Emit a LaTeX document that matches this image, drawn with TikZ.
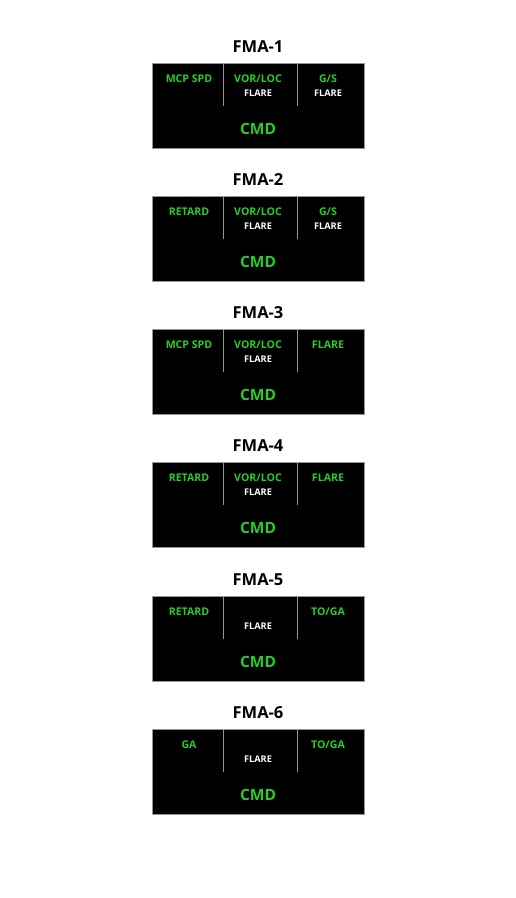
\documentclass[tikz,border=0pt]{standalone}
\usepackage{fontspec}
\setmainfont{Open Sans}
\definecolor{fmagreen}{RGB}{40,205,40}
\definecolor{divgray}{RGB}{150,150,150}
\begin{document}
\begin{tikzpicture}[x=1pt,y=-1pt,
  panel/.style={fill=black,draw=divgray,line width=0.8pt},
  divider/.style={draw=divgray,line width=1pt},
  title/.style={font=\fontsize{16.5}{17}\selectfont\bfseries,text=black},
  glabel/.style={font=\fontsize{10.6}{11}\selectfont\bfseries,text=fmagreen},
  wlabel/.style={font=\fontsize{9.2}{10}\selectfont\bfseries,text=white},
  cmd/.style={font=\fontsize{15.5}{16}\selectfont\bfseries,text=fmagreen}]
\useasboundingbox[fill=white] (0,0) rectangle (515,898);
\newcommand{\fmapanel}[7]{%
  % #1 index, #2 top y, #3 left label, #4 mid top, #5 mid bottom, #6 right top, #7 right bottom
  \node[title] (t#1) at (258,#2-16) {FMA-#1};
  \path[panel] (152,#2) rectangle (364,#2+85);
  \coordinate (d1a#1) at (223,#2);
  \coordinate (d1b#1) at (223,#2+43);
  \coordinate (d2a#1) at (297,#2);
  \coordinate (d2b#1) at (297,#2+43);
  \draw[divider] (d1a#1) -- (d1b#1);
  \draw[divider] (d2a#1) -- (d2b#1);
  \node[glabel] (l#1) at (189,#2+15.5) {#3};
  \node[glabel] (m#1) at (258,#2+15.5) {#4};
  \node[wlabel] (mb#1) at (258,#2+30.5) {#5};
  \node[glabel] (r#1) at (328,#2+15.5) {#6};
  \node[wlabel] (rb#1) at (328,#2+30.5) {#7};
  \node[cmd] (c#1) at (258,#2+66) {CMD};
}
\fmapanel{1}{63}{MCP SPD}{VOR/LOC}{FLARE}{G/S}{FLARE}
\fmapanel{2}{196}{RETARD}{VOR/LOC}{FLARE}{G/S}{FLARE}
\fmapanel{3}{329}{MCP SPD}{VOR/LOC}{FLARE}{FLARE}{}
\fmapanel{4}{462}{RETARD}{VOR/LOC}{FLARE}{FLARE}{}
\fmapanel{5}{596}{RETARD}{}{FLARE}{TO/GA}{}
\fmapanel{6}{729}{GA}{}{FLARE}{TO/GA}{}
\end{tikzpicture}
\end{document}
